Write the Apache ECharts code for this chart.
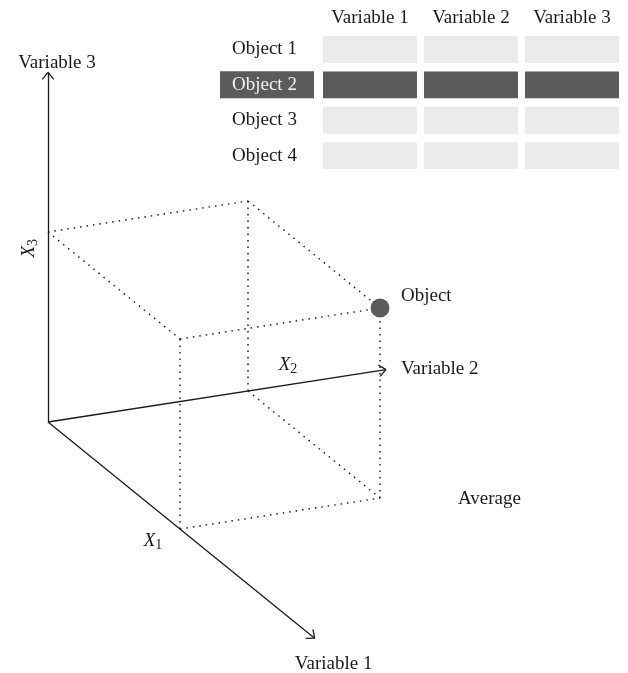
<!DOCTYPE html>
<html>
<head>
<meta charset="utf-8">
<script src="https://cdn.jsdelivr.net/npm/echarts@6/dist/echarts.min.js"></script>
<style>html,body{margin:0;padding:0;background:#fff}#c{width:628px;height:673px}</style>
</head>
<body>
<div id="c"></div>
<script>
// ---- data ----
const variables = ['Variable 1', 'Variable 2', 'Variable 3'];
const axisSymbols = ['X1', 'X2', 'X3'];
const objectValues = [1, 1, 1];          // object position along Variable 1, 2, 3
const axisExtent = [2.02, 1.69, 1.84];   // length of each drawn axis (same units)
const tableColumns = ['Variable 1', 'Variable 2', 'Variable 3'];
const tableRows = ['Object 1', 'Object 2', 'Object 3', 'Object 4'];
const highlightedRow = 'Object 2';
const objectLabel = 'Object';
const averageLabel = 'Average';

// ---- oblique projection (layout) ----
const ORIGIN = [48, 422];
const BASIS = [[132, 107], [200, -31], [0, -190]];
function proj(v) {
  return [ORIGIN[0] + v[0]*BASIS[0][0] + v[1]*BASIS[1][0] + v[2]*BASIS[2][0],
          ORIGIN[1] + v[0]*BASIS[0][1] + v[1]*BASIS[1][1] + v[2]*BASIS[2][1]];
}
const FONT = '"Liberation Serif", "DejaVu Serif", serif';
const TXT = '#1a1a1a';

// axes and chevron arrowheads
const axisLines = [];
for (let i = 0; i < 3; i++) {
  const end = [0, 0, 0]; end[i] = axisExtent[i];
  const tip = proj(end);
  axisLines.push({coords: [proj([0,0,0]), tip]});
  const dx = ORIGIN[0] - tip[0], dy = ORIGIN[1] - tip[1];
  const len = Math.hypot(dx, dy), ux = dx/len, uy = dy/len;
  const th = 40 * Math.PI / 180, L = 9;
  [th, -th].forEach(a => {
    const wx = ux*Math.cos(a) - uy*Math.sin(a), wy = ux*Math.sin(a) + uy*Math.cos(a);
    axisLines.push({coords: [tip, [tip[0] + wx*L, tip[1] + wy*L]]});
  });
}

// dotted box edges between origin-relative corners of the object's box
const a = objectValues[0], b = objectValues[1], c = objectValues[2];
const boxEdges = [
  [[0,0,c],[a,0,c]], [[0,0,c],[0,b,c]], [[0,b,c],[a,b,c]], [[a,0,c],[a,b,c]],
  [[0,b,0],[0,b,c]], [[a,0,0],[a,0,c]], [[a,b,0],[a,b,c]],
  [[a,0,0],[a,b,0]], [[0,b,0],[a,b,0]]
].map(e => ({coords: [proj(e[0]), proj(e[1])]}));

function sub(s) { return '{x|' + s[0] + '}{s|' + s.slice(1) + '}'; }
const subRich = {
  x: {fontFamily: FONT, fontSize: 19, fontStyle: 'italic', color: TXT, lineHeight: 22},
  s: {fontFamily: FONT, fontSize: 14, color: TXT, padding: [9, 0, 0, 0], lineHeight: 22}
};
function tipOf(i) { const e = [0,0,0]; e[i] = axisExtent[i]; return proj(e); }
const base = {fontFamily: FONT, fontSize: 19, color: TXT};
const labelPts = [
  {value: tipOf(2), label: Object.assign({show: true, formatter: variables[2], position: 'inside', offset: [9, -9]}, base)},
  {value: tipOf(1), label: Object.assign({show: true, formatter: variables[1], position: 'inside', align: 'left', offset: [15, -1]}, base)},
  {value: tipOf(0), label: Object.assign({show: true, formatter: variables[0], position: 'inside', offset: [19, 26]}, base)},
  {value: proj(objectValues), label: Object.assign({show: true, formatter: objectLabel, position: 'inside', align: 'left', offset: [21, -12]}, base)},
  {value: proj([a, b, 0]), label: Object.assign({show: true, formatter: averageLabel, position: 'inside', align: 'left', offset: [78, 1]}, base)},
  {value: proj([a, 0, 0]), label: {show: true, formatter: sub(axisSymbols[0]), position: 'inside', offset: [-27, 12], rich: subRich}},
  {value: proj([0, 1.2*b, 0]), label: {show: true, formatter: sub(axisSymbols[1]), position: 'inside', offset: [0, -20], rich: subRich}},
  {value: proj([0, 0, 0.92*c]), label: {show: true, formatter: sub(axisSymbols[2]), position: 'inside', offset: [-1, -19], rotate: 90, rich: subRich}}
];

const cells = [];
tableRows.forEach(r => tableColumns.forEach(col => cells.push([col, r, r === highlightedRow ? 1 : 0])));

const chart = echarts.init(document.getElementById('c'), null, {renderer: 'canvas'});
chart.setOption({
  animation: false,
  backgroundColor: '#fff',
  grid: [
    {left: 0, top: 0, width: 628, height: 673},
    {left: 319.5, top: 31.75, width: 303, height: 141.5}
  ],
  xAxis: [
    {gridIndex: 0, type: 'value', min: 0, max: 628, show: false},
    {gridIndex: 1, type: 'category', position: 'top', data: tableColumns,
     axisLine: {show: false}, axisTick: {show: false}, splitLine: {show: false},
     axisLabel: {fontFamily: FONT, fontSize: 19, color: TXT, margin: 4}}
  ],
  yAxis: [
    {gridIndex: 0, type: 'value', min: 0, max: 673, inverse: true, show: false},
    {gridIndex: 1, type: 'category', inverse: true, data: tableRows,
     axisLine: {show: false}, axisTick: {show: false}, splitLine: {show: false},
     axisLabel: {margin: 5.5,
       formatter: v => (v === highlightedRow ? '{h|' : '{n|') + v + '}',
       rich: {
         n: {fontFamily: FONT, fontSize: 19, color: TXT, width: 82, height: 27, lineHeight: 27, padding: [0, 0, 0, 12], align: 'left'},
         h: {fontFamily: FONT, fontSize: 19, color: '#f2f2f2', backgroundColor: '#5b5b5b', width: 82, height: 27, lineHeight: 27, padding: [0, 0, 0, 12], align: 'left'}
       }}}
  ],
  series: [
    {type: 'custom', xAxisIndex: 1, yAxisIndex: 1, data: cells, silent: true,
     renderItem: (params, api) => {
       const p = api.coord([api.value(0), api.value(1)]);
       const s = api.size([1, 1]);
       const w = s[0] - 7, h = s[1] - 8.5;
       return {type: 'rect', shape: {x: p[0] - w/2, y: p[1] - h/2, width: w, height: h},
               style: {fill: api.value(2) ? '#5b5b5b' : '#ebebeb'}};
     }},
    {type: 'lines', coordinateSystem: 'cartesian2d', xAxisIndex: 0, yAxisIndex: 0, silent: true,
     data: boxEdges, lineStyle: {color: '#222', width: 1.5, type: [1.5, 5], opacity: 1}},
    {type: 'lines', coordinateSystem: 'cartesian2d', xAxisIndex: 0, yAxisIndex: 0, silent: true,
     data: axisLines, lineStyle: {color: '#1a1a1a', width: 1.3, opacity: 1}},
    {type: 'scatter', xAxisIndex: 0, yAxisIndex: 0, silent: true, symbolSize: 19,
     itemStyle: {color: '#5b5b5b', opacity: 1}, data: [proj(objectValues)]},
    {type: 'scatter', xAxisIndex: 0, yAxisIndex: 0, silent: true, symbolSize: 0,
     itemStyle: {opacity: 1}, data: labelPts}
  ]
});
</script>
</body>
</html>
